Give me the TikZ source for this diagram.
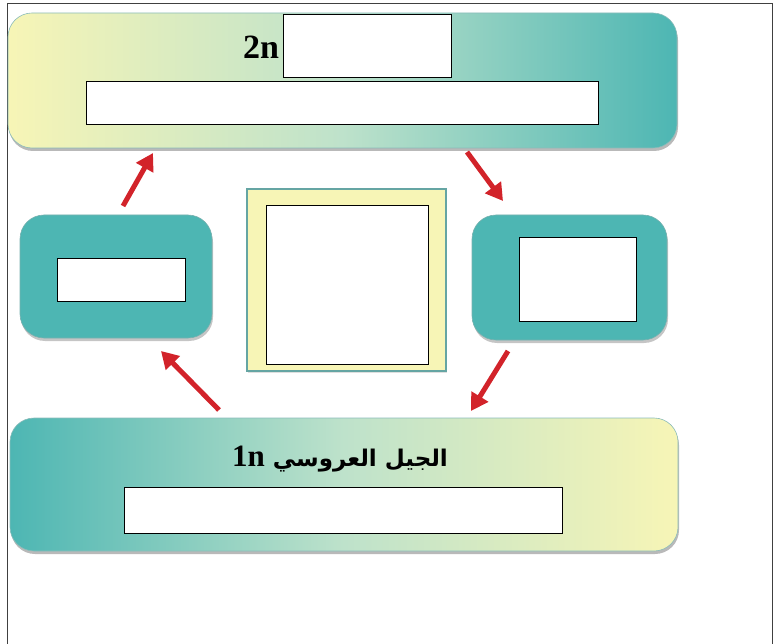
\documentclass[tikz,border=0pt]{standalone}
\usepackage{fontspec}
\setmainfont{Liberation Serif}
\newfontfamily\arabicfont[Script=Arabic]{DejaVu Sans}
\TeXXeTstate=1
\usetikzlibrary{shadows,arrows.meta}
\definecolor{tealc}{HTML}{4DB6B3}
\definecolor{tealdark}{HTML}{3E8F8C}
\definecolor{ylw}{HTML}{F7F5B6}
\definecolor{arr}{HTML}{D2232A}
\begin{document}
\begin{tikzpicture}[x=1pt,y=-1pt,
  every node/.style={inner sep=0pt,outer sep=0pt},
  banner/.style={rounded corners=24pt,draw=tealdark!60,line width=0.6pt,
    drop shadow={shadow xshift=1pt,shadow yshift=-3pt,fill=black!55}},
  sidebox/.style={rounded corners=24pt,fill=tealc,draw=tealdark!70,line width=0.6pt,
    drop shadow={shadow xshift=1pt,shadow yshift=-3pt,fill=black!45}},
  whitebox/.style={fill=white,draw=black,line width=0.9pt},
  redarrow/.style={draw=arr,line width=5pt,-{Triangle[length=17pt,width=19pt]}}
]
\useasboundingbox (0,0) rectangle (779,644);
% outer frame
\draw[line width=1pt,black!75] (7.5,644) -- (7.5,3.5) -- (772.5,3.5) -- (772.5,644);

% top banner
\node[banner,minimum width=669pt,minimum height=135pt,
  left color=ylw,right color=tealc,middle color=ylw!50!tealc!70!white] (top) at (342.5,80.5) {};
\node[whitebox,minimum width=168pt,minimum height=63pt] (topsmall) at (367,45.5) {};
\node[whitebox,minimum width=512pt,minimum height=43pt] (topwide) at (342,102.5) {};
\node[anchor=east,font=\fontsize{34}{34}\selectfont\bfseries] (lbl2n) at (279,47) {2n};

% bottom banner
\node[banner,minimum width=668pt,minimum height=133pt,
  left color=tealc,right color=ylw,middle color=ylw!50!tealc!70!white] (bot) at (344,484.5) {};
\node[whitebox,minimum width=438pt,minimum height=46pt] (botwide) at (343,510) {};
\node[font=\fontsize{23}{23}\selectfont\bfseries] (lbl1n) at (340,459)
  {\arabicfont\beginR الجيل العروسي \beginL{\rmfamily\bfseries\fontsize{31}{31}\selectfont 1n}\endL\endR};

% side boxes
\node[sidebox,minimum width=192pt,minimum height=123pt] (left) at (116,276.5) {};
\node[whitebox,minimum width=128pt,minimum height=43pt] (leftin) at (121,279.5) {};
\node[sidebox,minimum width=195pt,minimum height=125pt] (right) at (569.5,277.5) {};
\node[whitebox,minimum width=117pt,minimum height=84pt] (rightin) at (577.5,279) {};

% center square
\node[fill=ylw,draw=tealdark!80,line width=2.5pt,minimum width=199pt,minimum height=182pt,
  drop shadow={shadow xshift=1pt,shadow yshift=-2pt,fill=gray!50}] (center) at (346.5,280) {};
\node[whitebox,minimum width=162pt,minimum height=159pt] (centerin) at (347,284.5) {};

% arrows
\coordinate (a1s) at (123,206); \coordinate (a1e) at (153,153);
\coordinate (a2s) at (467,152); \coordinate (a2e) at (503,201);
\coordinate (a3s) at (508,351); \coordinate (a3e) at (471,411);
\coordinate (a4s) at (219,410); \coordinate (a4e) at (161,351);
\draw[redarrow] (a1s) -- (a1e);
\draw[redarrow] (a2s) -- (a2e);
\draw[redarrow] (a3s) -- (a3e);
\draw[redarrow] (a4s) -- (a4e);
\end{tikzpicture}
\end{document}
